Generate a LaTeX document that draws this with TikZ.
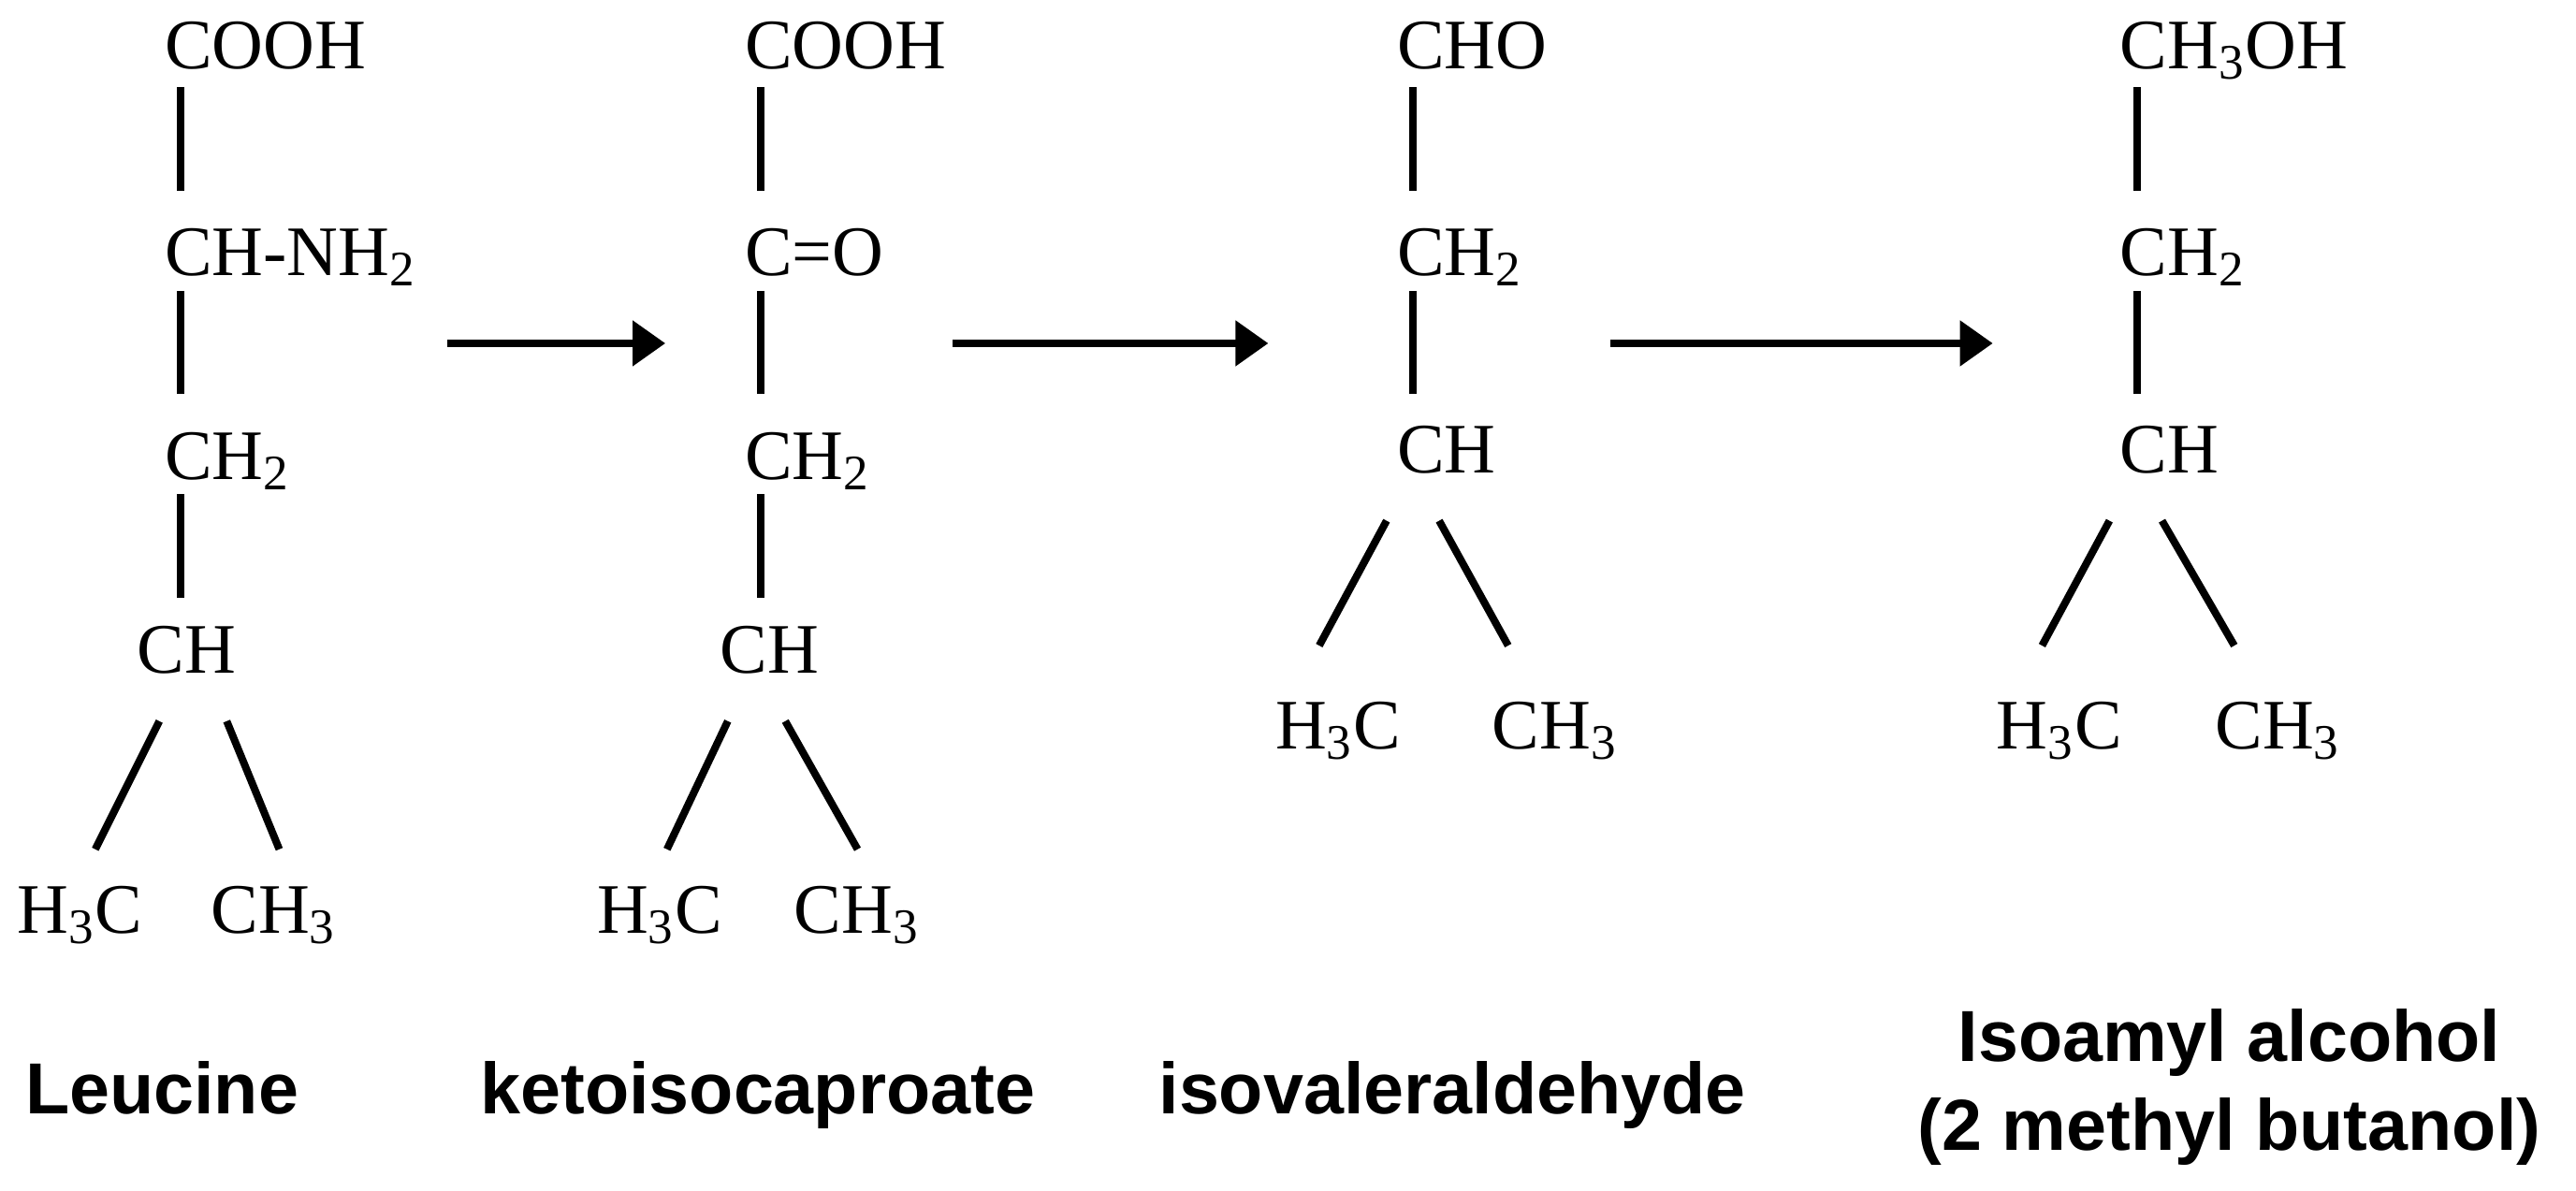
\documentclass[tikz,border=0pt]{standalone}
\usepackage{fontspec}
\setmainfont{Liberation Serif}
\setsansfont{Liberation Sans}
\usetikzlibrary{arrows.meta}
\begin{document}
\begin{tikzpicture}[x=0.017557cm,y=-0.017557cm,
  chem/.style={anchor=base west,inner sep=0pt,font=\fontsize{21.6}{26}\selectfont},
  lab/.style={anchor=base,inner sep=0pt,font=\sffamily\bfseries\fontsize{22}{26}\selectfont},
  bond/.style={line width=0.08cm},
  rxn/.style={line width=0.08cm,-{Triangle[length=0.35cm,width=0.47cm]}}]
\useasboundingbox (0,0) rectangle (1568,725);
% Leucine
\node[chem] (a1) at (100,42) {COOH};
\node[chem] (a2) at (100,168) {CH-NH\textsubscript{2}};
\node[chem] (a3) at (100,292) {CH\textsubscript{2}};
\node[chem] (a4) at (83,410) {CH};
\node[chem] (a5) at (10,568) {H\textsubscript{3}C};
\node[chem] (a6) at (128,568) {CH\textsubscript{3}};
\draw[bond] (110,53) -- (110,116);
\draw[bond] (110,177) -- (110,240);
\draw[bond] (110,301) -- (110,364);
\draw[bond] (97,439) -- (58,517);
\draw[bond] (138,439) -- (170,517);
\node[lab,anchor=base west] (la) at (15,678) {Leucine};
% ketoisocaproate
\node[chem] (b1) at (453,42) {COOH};
\node[chem] (b2) at (453,168) {C=O};
\node[chem] (b3) at (453,292) {CH\textsubscript{2}};
\node[chem] (b4) at (438,410) {CH};
\node[chem] (b5) at (363,568) {H\textsubscript{3}C};
\node[chem] (b6) at (483,568) {CH\textsubscript{3}};
\draw[bond] (463,53) -- (463,116);
\draw[bond] (463,177) -- (463,240);
\draw[bond] (463,301) -- (463,364);
\draw[bond] (443,439) -- (406,517);
\draw[bond] (478,439) -- (522,517);
\node[lab,anchor=base west] (lb) at (292,678) {ketoisocaproate};
% isovaleraldehyde
\node[chem] (c1) at (850,42) {CHO};
\node[chem] (c2) at (850,168) {CH\textsubscript{2}};
\node[chem] (c3) at (850,288) {CH};
\node[chem] (c5) at (776,456) {H\textsubscript{3}C};
\node[chem] (c6) at (908,456) {CH\textsubscript{3}};
\draw[bond] (860,53) -- (860,116);
\draw[bond] (860,177) -- (860,240);
\draw[bond] (844,317) -- (803,393);
\draw[bond] (876,317) -- (918,393);
\node[lab,anchor=base west] (lc) at (705,678) {isovaleraldehyde};
% isoamyl alcohol
\node[chem] (d1) at (1290,42) {CH\textsubscript{3}OH};
\node[chem] (d2) at (1290,168) {CH\textsubscript{2}};
\node[chem] (d3) at (1290,288) {CH};
\node[chem] (d5) at (1215,456) {H\textsubscript{3}C};
\node[chem] (d6) at (1348,456) {CH\textsubscript{3}};
\draw[bond] (1301,53) -- (1301,116);
\draw[bond] (1301,177) -- (1301,240);
\draw[bond] (1284,317) -- (1243,393);
\draw[bond] (1316,317) -- (1360,393);
\node[lab] (ld1) at (1357,646) {Isoamyl alcohol};
\node[lab] (ld2) at (1357,700) {(2 methyl butanol)};
% arrows
\coordinate (r1s) at (272,209); \coordinate (r1e) at (405,209);
\coordinate (r2s) at (580,209); \coordinate (r2e) at (772,209);
\coordinate (r3s) at (980,209); \coordinate (r3e) at (1213,209);
\draw[rxn] (r1s) -- (r1e);
\draw[rxn] (r2s) -- (r2e);
\draw[rxn] (r3s) -- (r3e);
\end{tikzpicture}
\end{document}
